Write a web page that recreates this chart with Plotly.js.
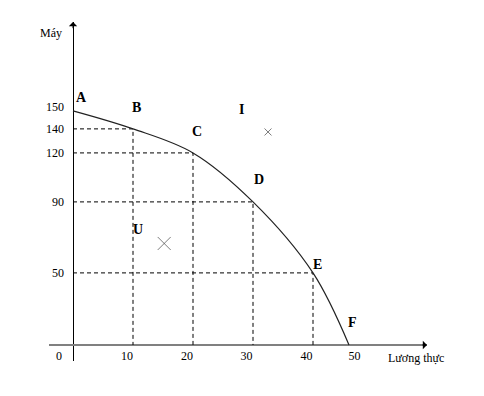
<!DOCTYPE html>
<html>
<head>
<meta charset="utf-8">
<script src="https://cdn.plot.ly/plotly-3.0.1.min.js"></script>
<style>html,body{margin:0;padding:0;background:#fff;}#chart{width:484px;height:396px;}</style>
</head>
<body>
<div id="chart"></div>
<script>
// Data (as drawn in the picture)
const foodTicks = ['0', '10', '20', '30', '40', '50'];
const machineTicks = ['150', '140', '120', '90', '50'];
const pointLabels = ['A', 'B', 'C', 'D', 'E', 'F'];
const foodDrawn = [0, 10, 20, 30, 40, 46];
const machineDrawn = [152, 140.3, 124.7, 92.9, 46.8, 0];
const markLabels = ['I', 'U'];
const markFood = [32.5, 15.2];
const markMachine = [138.3, 65.9];
const xTitle = 'Lương thực';
const yTitle = 'Máy';

// Layout / style
const xRange = [-4, 59];
const yRange = [-10.4, 209.7];
const foodTickPos = [-2.33, 9, 19, 28.9, 38.9, 46.9];
const machineTickPos = [154.5, 140.3, 124.7, 92.9, 46.8];
const pointShift = [[8.5, 13.5], [3, 21], [4, 21], [5.5, 22], [4, 8.5], [3, 22]];
const markShift = [[-27, 22], [-26.5, 13.5]];
const markSize = [7, 13];
const serif = 'Liberation Serif, Times New Roman, serif';

// dashed guides for B..E
const gx = [], gy = [];
for (let i = 1; i < foodDrawn.length - 1; i++) {
  gx.push(0, foodDrawn[i], foodDrawn[i], null);
  gy.push(machineDrawn[i], machineDrawn[i], 0, null);
}

const traces = [
  {
    x: gx, y: gy, type: 'scatter', mode: 'lines',
    line: {color: '#000', width: 1, dash: '4px,3px'},
    hoverinfo: 'skip', showlegend: false
  },
  {
    x: foodDrawn, y: machineDrawn, type: 'scatter', mode: 'lines',
    line: {color: '#222', width: 1.2, shape: 'spline', smoothing: 1},
    hoverinfo: 'skip', showlegend: false, cliponaxis: false
  },
  {
    x: markFood, y: markMachine, type: 'scatter', mode: 'markers',
    marker: {symbol: 'x-thin-open', size: markSize, color: '#444', line: {color: '#444', width: 1}},
    hoverinfo: 'skip', showlegend: false
  }
];

const annotations = [];
pointLabels.forEach((t, i) => annotations.push({
  x: foodDrawn[i], y: machineDrawn[i], text: '<b>' + t + '</b>', showarrow: false,
  xshift: pointShift[i][0], yshift: pointShift[i][1],
  font: {family: serif, size: 14, color: '#000'}
}));
markLabels.forEach((t, i) => annotations.push({
  x: markFood[i], y: markMachine[i], text: '<b>' + t + '</b>', showarrow: false,
  xshift: markShift[i][0], yshift: markShift[i][1],
  font: {family: serif, size: 14, color: '#000'}
}));
// axis titles
annotations.push({x: 57.1, y: -8.4, text: xTitle, showarrow: false,
  font: {family: serif, size: 12, color: '#000'}});
annotations.push({x: -3.67, y: 202.6, text: yTitle, showarrow: false,
  font: {family: serif, size: 12, color: '#000'}});
// arrow heads
annotations.push({x: 0, y: yRange[1], ax: 0, ay: yRange[1] - 5, axref: 'x', ayref: 'y',
  text: '', showarrow: true, arrowhead: 1, arrowsize: 1.4, arrowwidth: 1, arrowcolor: '#000'});
annotations.push({x: xRange[1], y: 0, ax: xRange[1] - 1, ay: 0, axref: 'x', ayref: 'y',
  text: '', showarrow: true, arrowhead: 1, arrowsize: 1.4, arrowwidth: 1, arrowcolor: '#000'});

const layout = {
  width: 484, height: 396,
  margin: {l: 49, r: 57, t: 22, b: 35},
  paper_bgcolor: '#fff', plot_bgcolor: '#fff',
  showlegend: false,
  xaxis: {
    range: xRange, showgrid: false, showline: false,
    zeroline: true, zerolinecolor: '#000', zerolinewidth: 1,
    tickmode: 'array', tickvals: foodTickPos, ticktext: foodTicks,
    ticks: '', ticklabelstandoff: -14,
    tickfont: {family: serif, size: 12, color: '#000'}, fixedrange: true
  },
  yaxis: {
    range: yRange, showgrid: false, showline: false,
    zeroline: true, zerolinecolor: '#808080', zerolinewidth: 2,
    tickmode: 'array', tickvals: machineTickPos, ticktext: machineTicks,
    ticks: '', ticklabelstandoff: -16,
    tickfont: {family: serif, size: 12, color: '#000'}, fixedrange: true
  },
  annotations: annotations
};

Plotly.newPlot('chart', traces, layout, {displayModeBar: false, staticPlot: true});
</script>
</body>
</html>
